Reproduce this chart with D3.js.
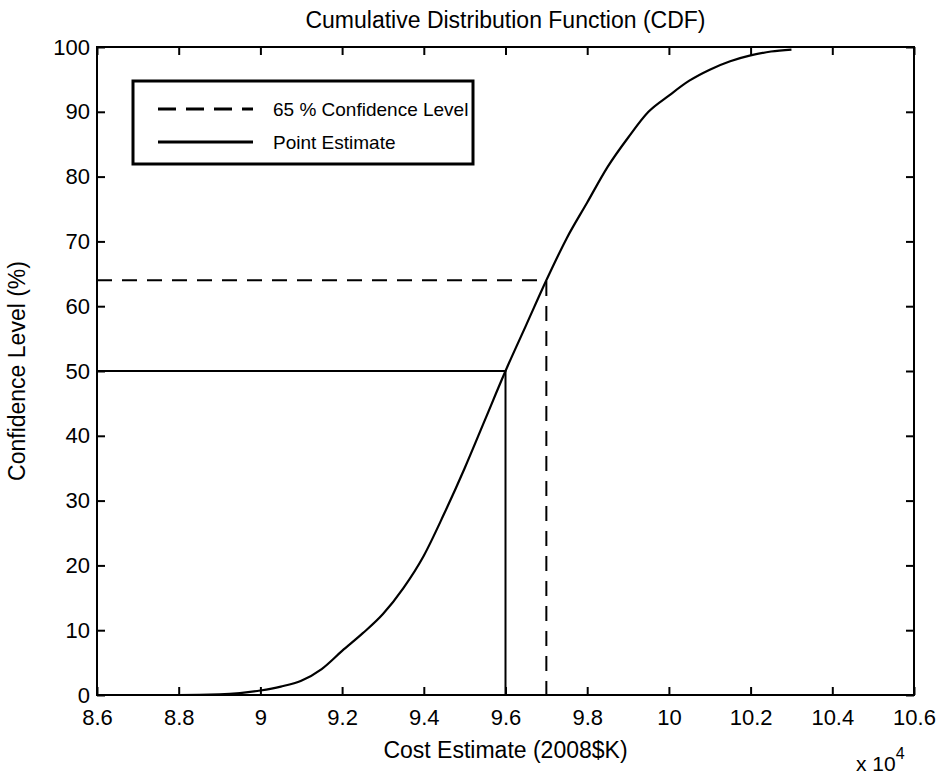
<!DOCTYPE html>
<meta charset="utf-8">
<script src="https://d3js.org/d3.v7.min.js"></script>
<style>
  body { margin: 0; background: #fff; }
  text { font-family: "Liberation Sans", Arial, sans-serif; fill: #000; }
</style>
<div id="my_dataviz"></div>
<script>
// cost estimate (x 10^4, 2008$K)
var cost = [8.74, 8.8, 8.9, 8.95, 9.0, 9.05, 9.1, 9.15, 9.2, 9.25, 9.3, 9.35, 9.4, 9.45, 9.5, 9.55, 9.6,
            9.65, 9.7, 9.75, 9.8, 9.85, 9.9, 9.95, 10.0, 10.05, 10.1, 10.15, 10.2, 10.25, 10.3];
// confidence level (%)
var conf = [0, 0, 0.1, 0.3, 0.7, 1.3, 2.2, 4, 6.8, 9.5, 12.5, 16.5, 21.5, 28, 35, 42.5, 50,
            57, 64, 70.5, 76, 81.5, 86, 90, 92.5, 94.8, 96.5, 97.8, 98.7, 99.3, 99.6];

var pointCost = 9.6, pointConf = 50;      // point estimate
var confCost = 9.7, confLevel = 64;       // 65 % confidence level marker

var xTicks = [8.6, 8.8, 9, 9.2, 9.4, 9.6, 9.8, 10, 10.2, 10.4, 10.6];
var yTicks = [0, 10, 20, 30, 40, 50, 60, 70, 80, 90, 100];
var legendLabels = ["65 % Confidence Level", "Point Estimate"];

var margin = {top: 47, right: 22, bottom: 84, left: 97},
    width = 936 - margin.left - margin.right,
    height = 779 - margin.top - margin.bottom;

var svg = d3.select("#my_dataviz")
  .append("svg")
    .attr("width", 936)
    .attr("height", 779)
  .append("g")
    .attr("transform", "translate(" + margin.left + "," + margin.top + ")");

var x = d3.scaleLinear().domain([8.6, 10.6]).range([0, width]);
var y = d3.scaleLinear().domain([0, 100]).range([height, 0]);

// box
svg.append("rect")
  .attr("width", width).attr("height", height)
  .attr("fill", "none").attr("stroke", "#000").attr("stroke-width", 2);

// axes, ticks inside like matlab
function styleAxis(g) {
  g.select(".domain").remove();
  g.selectAll(".tick line").attr("stroke", "#000").attr("stroke-width", 2);
  g.selectAll(".tick text").attr("font-size", "22px").attr("fill", "#000");
}
svg.append("g").attr("transform", "translate(0," + height + ")")
  .call(d3.axisBottom(x).tickValues(xTicks).tickSizeInner(-8).tickPadding(14).tickFormat(d3.format("")))
  .call(styleAxis);
svg.append("g")
  .call(d3.axisLeft(y).tickValues(yTicks).tickSizeInner(-8).tickPadding(7))
  .call(styleAxis);
svg.append("g").attr("transform", "translate(" + width + ",0)")
  .call(d3.axisRight(y).tickValues(yTicks).tickSizeInner(-8).tickFormat(""))
  .call(styleAxis);
svg.append("g")
  .call(d3.axisTop(x).tickValues(xTicks).tickSizeInner(-8).tickFormat(""))
  .call(styleAxis);

// reference lines
svg.append("path")
  .attr("d", "M" + x(8.6) + "," + y(confLevel) + "H" + x(confCost) + "V" + y(0))
  .attr("fill", "none").attr("stroke", "#000").attr("stroke-width", 2)
  .attr("stroke-dasharray", "15,10");
svg.append("path")
  .attr("d", "M" + x(8.6) + "," + y(pointConf) + "H" + x(pointCost) + "V" + y(0))
  .attr("fill", "none").attr("stroke", "#000").attr("stroke-width", 2);

// cdf curve
var line = d3.line()
  .x(function(d, i) { return x(cost[i]); })
  .y(function(d, i) { return y(conf[i]); })
  .curve(d3.curveMonotoneX);
svg.append("path")
  .datum(cost)
  .attr("d", line)
  .attr("fill", "none").attr("stroke", "#000").attr("stroke-width", 2.2);

// legend
var lg = svg.append("g").attr("transform", "translate(36,34)");
lg.append("rect").attr("width", 340).attr("height", 83)
  .attr("fill", "#fff").attr("stroke", "#000").attr("stroke-width", 3);
lg.selectAll("line.leg")
  .data(legendLabels)
  .enter().append("line")
    .attr("x1", 25).attr("x2", 120)
    .attr("y1", function(d, i) { return 28 + i * 33; })
    .attr("y2", function(d, i) { return 28 + i * 33; })
    .attr("stroke", "#000").attr("stroke-width", 3)
    .attr("stroke-dasharray", function(d, i) { return i == 0 ? "18,10" : null; });
lg.selectAll("text.leg")
  .data(legendLabels)
  .enter().append("text")
    .attr("x", 140)
    .attr("y", function(d, i) { return 35 + i * 33; })
    .attr("font-size", "19px")
    .text(function(d) { return d; });

// titles
svg.append("text")
  .attr("x", width / 2).attr("y", -19)
  .attr("text-anchor", "middle").attr("font-size", "23px")
  .text("Cumulative Distribution Function (CDF)");
svg.append("text")
  .attr("x", width / 2).attr("y", height + 63)
  .attr("text-anchor", "middle").attr("font-size", "23px")
  .text("Cost Estimate (2008$K)");
svg.append("text")
  .attr("transform", "translate(" + (-72) + "," + (height / 2) + ") rotate(-90)")
  .attr("text-anchor", "middle").attr("font-size", "23px")
  .text("Confidence Level (%)");

// exponent label
var ex = svg.append("text")
  .attr("x", width - 58).attr("y", height + 76)
  .attr("font-size", "21px");
ex.append("tspan").text("x 10");
ex.append("tspan").attr("dy", -12).attr("font-size", "16px").text("4");
</script>
